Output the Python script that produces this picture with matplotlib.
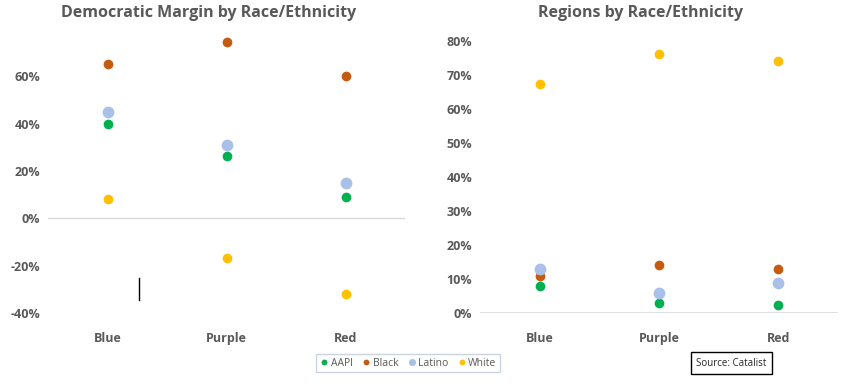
import matplotlib.pyplot as plt
from matplotlib.ticker import PercentFormatter

plt.rcParams['axes.unicode_minus'] = False

# data
regions = ['Blue', 'Purple', 'Red']
groups = ['AAPI', 'Black', 'Latino', 'White']

margin_aapi = [0.40, 0.262, 0.089]
margin_black = [0.651, 0.744, 0.60]
margin_latino = [0.448, 0.309, 0.148]
margin_white = [0.08, -0.169, -0.321]

share_aapi = [0.079, 0.029, 0.024]
share_black = [0.109, 0.141, 0.129]
share_latino = [0.129, 0.059, 0.088]
share_white = [0.674, 0.762, 0.741]

left_ticks = [-0.4, -0.2, 0, 0.2, 0.4, 0.6]
right_ticks = [0, 0.1, 0.2, 0.3, 0.4, 0.5, 0.6, 0.7, 0.8]

colors = {'AAPI': '#00B050', 'Black': '#C55A11', 'Latino': '#A9C1E8', 'White': '#FFC000'}
sizes = {'AAPI': 7, 'Black': 7, 'Latino': 8.5, 'White': 7}
gray = '#595959'
font = 'Open Sans'

fig = plt.figure(figsize=(8.64, 3.85), dpi=100)
ax1 = fig.add_axes([0.056, 0.187, 0.413, 0.738])
ax2 = fig.add_axes([0.556, 0.187, 0.414, 0.706])

left_data = [margin_aapi, margin_black, margin_latino, margin_white]
right_data = [share_aapi, share_black, share_latino, share_white]
x = list(range(len(regions)))

for ax, data in [(ax1, left_data), (ax2, right_data)]:
    for g, vals in zip(groups, data):
        ax.plot(x, vals, 'o', color=colors[g], markersize=sizes[g], markeredgewidth=0, label=g, zorder=3)
    ax.set_xlim(-0.5, 2.5)
    ax.set_xticks(x)
    ax.set_xticklabels(regions)
    for s in ax.spines.values():
        s.set_visible(False)
    ax.tick_params(length=0, colors=gray, labelsize=9)
    ax.tick_params(axis='x', pad=14)
    ax.tick_params(axis='y', pad=6)
    ax.yaxis.set_major_formatter(PercentFormatter(1, decimals=0))

ax1.set_ylim(-0.4, 0.8)
ax1.set_yticks(left_ticks)
ax1.axhline(0, color='#D9D9D9', lw=1, zorder=1)

ax2.set_ylim(0, 0.8)
ax2.set_yticks(right_ticks)
ax2.axhline(0, color='#D9D9D9', lw=1.2, zorder=1)

for ax in (ax1, ax2):
    for lab in ax.get_xticklabels() + ax.get_yticklabels():
        lab.set_fontweight('bold')
        lab.set_family(font)

# stray mark in left panel
ax1.plot([0.26, 0.26], [-0.254, -0.347], color='black', lw=1)

fig.text(0.241, 0.965, 'Democratic Margin by Race/Ethnicity', ha='center', va='center',
         fontsize=11.5, fontweight='bold', color=gray, family=font)
fig.text(0.741, 0.965, 'Regions by Race/Ethnicity', ha='center', va='center',
         fontsize=11.5, fontweight='bold', color=gray, family=font)

handles, labels = ax1.get_legend_handles_labels()
leg = fig.legend(handles, labels, loc='center', bbox_to_anchor=(0.472, 0.057), ncol=4, frameon=True,
                 fancybox=False, edgecolor='#BFC9D9', fontsize=7.5, handletextpad=0.1,
                 columnspacing=0.8, borderpad=0.35, markerscale=0.6, handlelength=1.0)
for t in leg.get_texts():
    t.set_color(gray)
    t.set_family(font)

fig.text(0.8465, 0.057, 'Source: Catalist', ha='center', va='center', fontsize=7,
         color='#262626', family=font,
         bbox=dict(boxstyle='square,pad=0.55', facecolor='white', edgecolor='black', lw=1))

fig.savefig('out.png', dpi=100)
